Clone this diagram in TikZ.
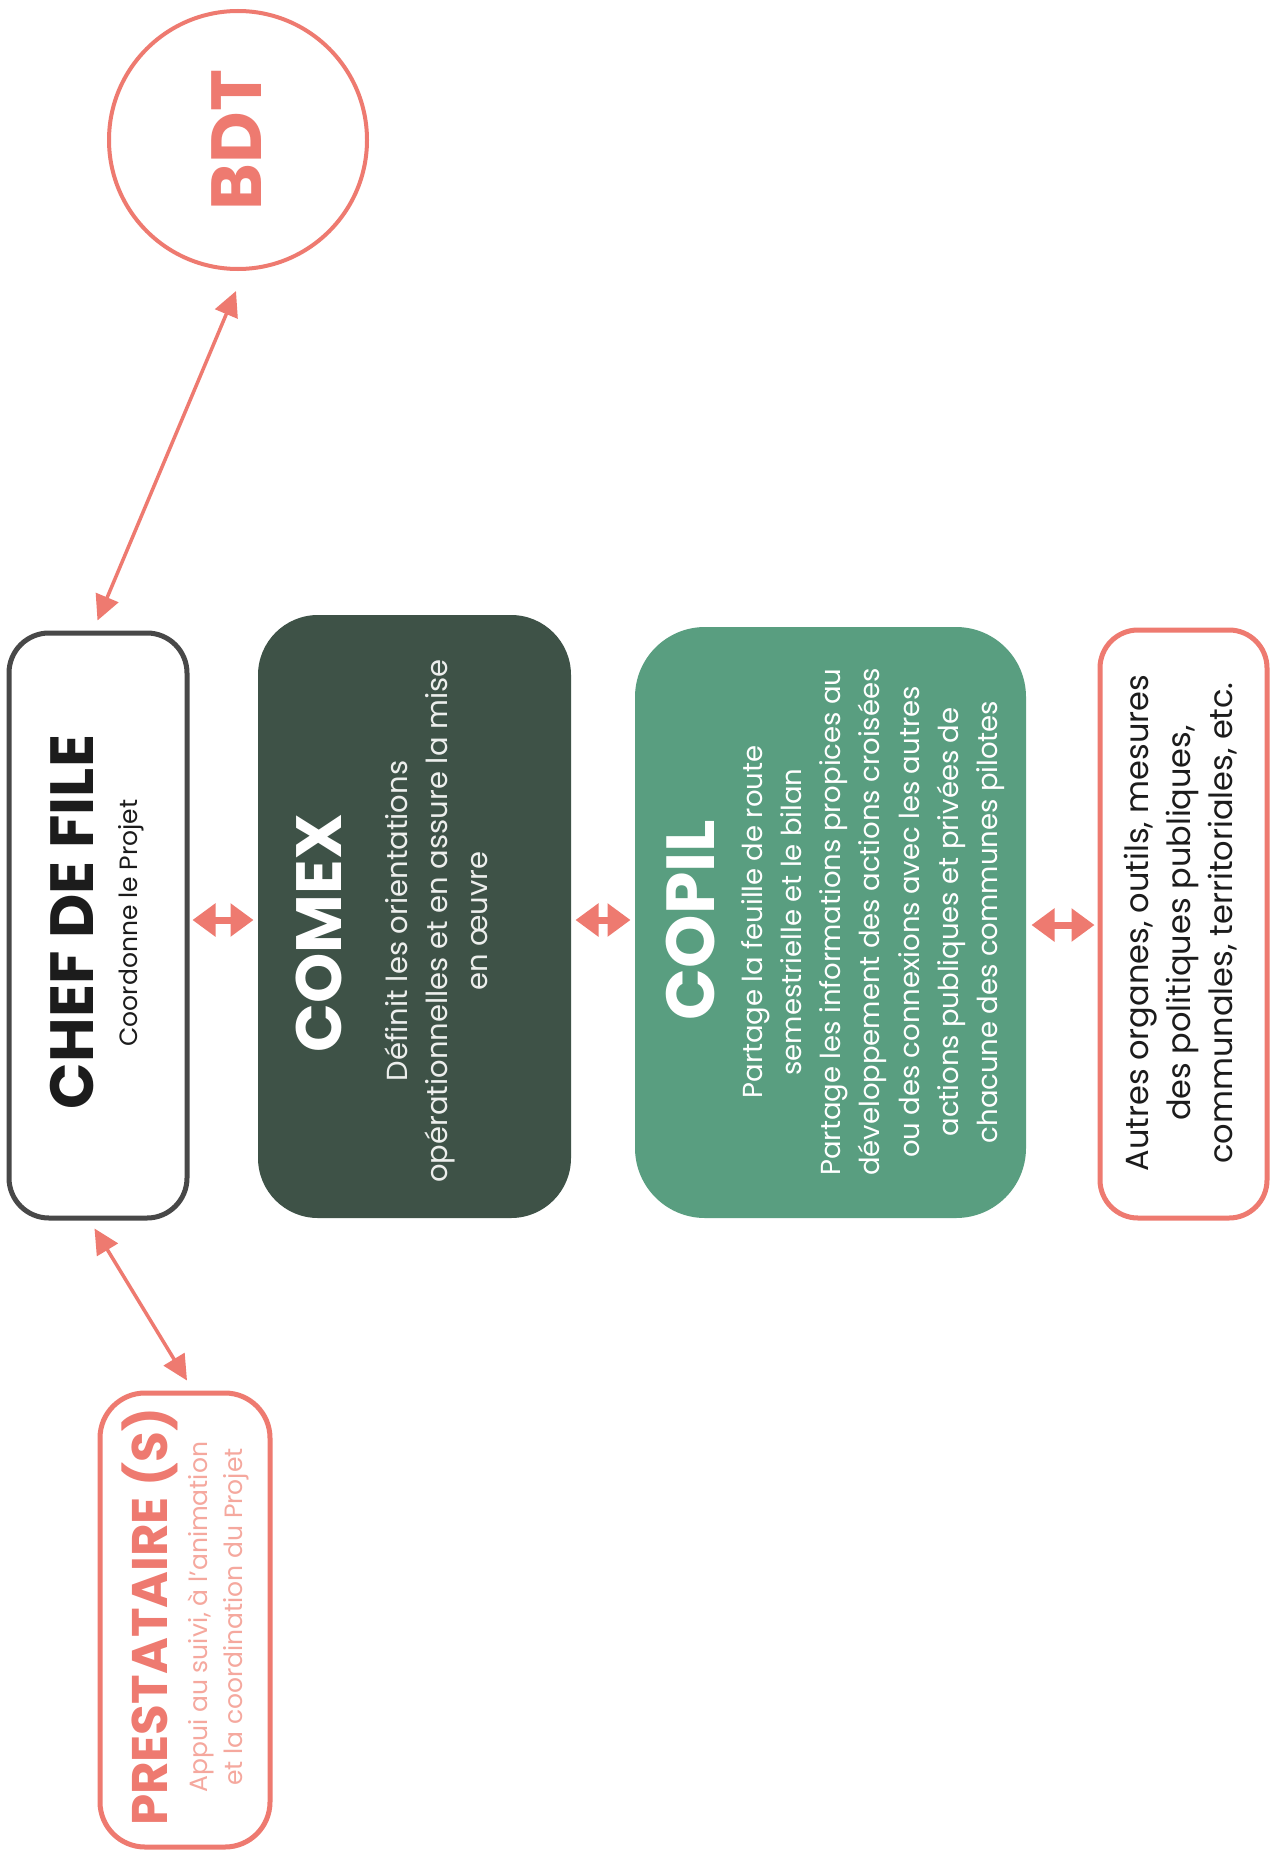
\documentclass[tikz,border=0pt]{standalone}
\usepackage{fontspec}
\setmainfont{Poppins}
\usetikzlibrary{arrows.meta,calc}
\definecolor{coral}{RGB}{238,122,112}
\definecolor{coralsoft}{RGB}{245,168,158}
\definecolor{chefgray}{RGB}{72,72,72}
\definecolor{chefdark}{RGB}{28,28,28}
\definecolor{comexfill}{RGB}{62,82,71}
\definecolor{copilfill}{RGB}{89,158,128}
\definecolor{comextext}{RGB}{236,238,236}
\begin{document}
\begin{tikzpicture}[x=1pt,y=-1pt,
  box/.style={rectangle, inner sep=0pt, line width=5pt},
  chefbox/.style={box, draw=chefgray, fill=white, rounded corners=40pt},
  comexbox/.style={box, draw=none, fill=comexfill, rounded corners=60pt},
  copilbox/.style={box, draw=none, fill=copilfill, rounded corners=70pt},
  coralbox/.style={box, draw=coral, fill=white, rounded corners=38pt},
  vtext/.style={rotate=90, inner sep=0pt, align=center},
  dbl/.style={draw=coral, line width=7pt, {Triangle[length=23pt,width=32pt]}-{Triangle[length=23pt,width=32pt]}},
  diag/.style={draw=coral, line width=3.5pt, {Triangle[length=25pt,width=24pt]}-{Triangle[length=25pt,width=24pt]}}
]
\useasboundingbox[fill=white] (0,0) rectangle (1271,1854);

% boxes
\node[chefbox, minimum width=178pt, minimum height=585pt] (chef) at (98,925.5) {};
\node[comexbox, minimum width=313pt, minimum height=603pt] (comex) at (414.5,916.5) {};
\node[copilbox, minimum width=391pt, minimum height=591pt] (copil) at (830.5,922.5) {};
\node[coralbox, minimum width=167pt, minimum height=588pt] (autres) at (1183.5,924) {};
\node[coralbox, minimum width=170pt, minimum height=454pt, rounded corners=45pt] (prest) at (185,1620) {};
\node[circle, draw=coral, line width=4pt, minimum size=258pt, inner sep=0pt] (bdt) at (238,140) {};

% texts
\node[vtext, font=\fontsize{61}{61}\selectfont\bfseries, text=chefdark] (chefT) at (72,922) {CHEF DE FILE};
\node[vtext, font=\fontsize{25}{30}\selectfont, text=chefdark] (chefS) at (131,923) {Coordonne le Projet};

\node[vtext, font=\fontsize{64}{64}\selectfont\bfseries, text=white] (comexT) at (319,933) {COMEX};
\node[vtext, font=\fontsize{29}{40}\selectfont, text=comextext] (comexS) at (436,921)
  {Définit les orientations\\opérationnelles et en assure la mise\\en œuvre};

\node[vtext, font=\fontsize{68}{68}\selectfont\bfseries, text=white] (copilT) at (691,920) {COPIL};
\node[vtext, font=\fontsize{27.5}{39.2}\selectfont, text=white] (copilS) at (873,922)
  {Partage la feuille de route\\semestrielle et le bilan\\Partage les informations propices au\\développement des actions croisées\\ou des connexions avec les autres\\actions publiques et privées de\\chacune des communes pilotes};

\node[vtext, font=\fontsize{32}{42}\selectfont, text=chefdark] (autresT) at (1181,923)
  {Autres organes, outils, mesures\\des politiques publiques,\\communales, territoriales, etc.};

\node[vtext, font=\fontsize{50}{50}\selectfont\bfseries, text=coral] (prestT) at (150,1617) {PRESTATAIRE (S)};
\node[vtext, font=\fontsize{25}{35}\selectfont, text=coralsoft] (prestS) at (218,1617)
  {Appui au suivi, à l'animation\\et la coordination du Projet};

\node[font=\fontsize{71}{71}\selectfont\bfseries, text=coral, rotate=90, inner sep=0pt] (bdtT) at (237,140) {BDT};

% connectors
\coordinate (yA) at (0,920);
\coordinate (yB) at (0,925);
\draw[dbl] ($(chef.east|-yA)+(3,0)$) -- ($(comex.west|-yA)+(-2,0)$);
\draw[dbl] ($(comex.east|-yA)+(2,0)$) -- ($(copil.west|-yA)+(-2,0)$);
\draw[dbl] ($(copil.east|-yB)+(3,0)$) -- ($(autres.west|-yB)+(-3,0)$);
\draw[diag] ($(chef.north west)+(91,-10)$) -- ($(bdt.south)+(-2,20)$);
\draw[diag] ($(chef.south west)+(88,8)$) -- ($(prest.north)+(2,-10)$);
\end{tikzpicture}
\end{document}
